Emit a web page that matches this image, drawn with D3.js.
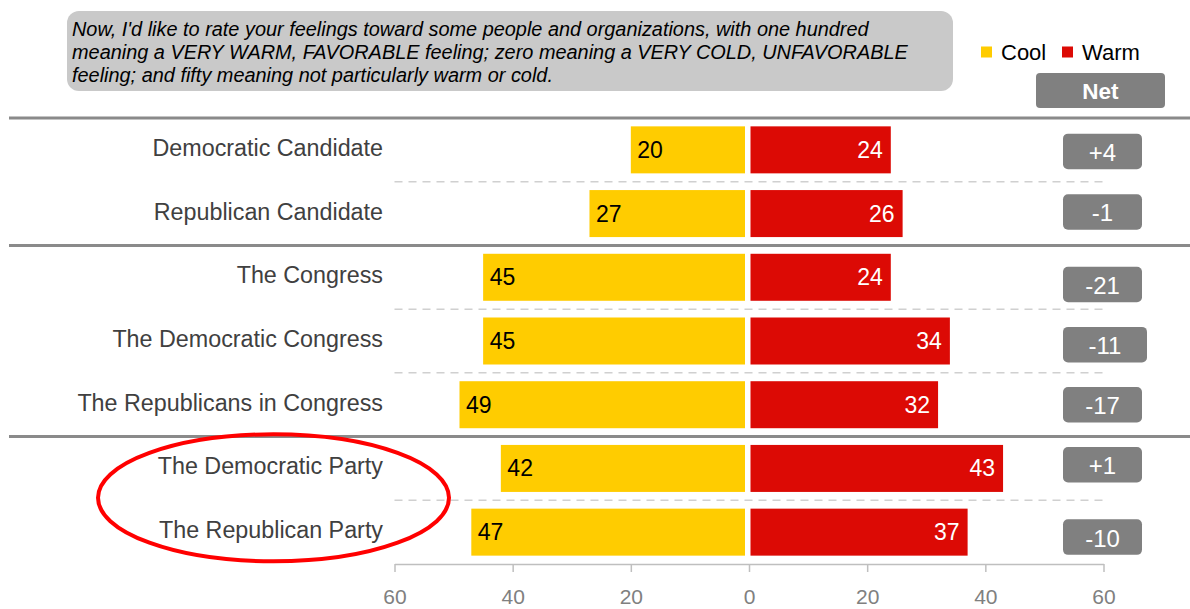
<!DOCTYPE html>
<html>
<head>
<meta charset="utf-8">
<script src="https://cdn.jsdelivr.net/npm/d3@7"></script>
<style>
  html, body { margin: 0; padding: 0; background: #fff; }
  svg { display: block; font-family: "Liberation Sans", Arial, sans-serif; }
</style>
</head>
<body>
<svg id="chart" width="1190" height="609"></svg>
<script>
// ---------------- data ----------------
const categories = [
  "Democratic Candidate",
  "Republican Candidate",
  "The Congress",
  "The Democratic Congress",
  "The Republicans in Congress",
  "The Democratic Party",
  "The Republican Party"
];
const groups = ["Candidate", "Candidate", "Congress", "Congress", "Congress", "Party", "Party"];
const coolValues = [20, 27, 45, 45, 49, 42, 47];
const warmValues = [24, 26, 24, 34, 32, 43, 37];
const axisTicks = [-60, -40, -20, 0, 20, 40, 60];
const legendLabels = ["Cool", "Warm"];
const netHeader = "Net";
const highlighted = ["The Democratic Party", "The Republican Party"];
const questionLines = [
  "Now, I'd like to rate your feelings toward some people and organizations, with one hundred",
  "meaning a VERY WARM, FAVORABLE feeling; zero meaning a VERY COLD, UNFAVORABLE",
  "feeling; and fifty meaning not particularly warm or cold."
];

// ---------------- layout ----------------
const COOL = "#FFCC00", WARM = "#DC0A05", GREY = "#808080";
const netNudgeY = [1.6, -1.6, 7.2, 3.7, 0, -3.7, 4.9];
const netExtraW = [0, 0, 0, 5, 0, 0, 0];

const svg = d3.select("#chart");

const x = d3.scaleLinear().domain([-60, 60]).range([394.5, 1103.5]);
const y = d3.scaleBand().domain(categories).range([118, 564]).paddingInner(0).paddingOuter(0);
const bw = y.bandwidth();
const barH = 47;
const x0 = x(0);

const rows = categories.map((c, i) => ({
  cat: c, group: groups[i], cool: coolValues[i], warm: warmValues[i],
  net: warmValues[i] - coolValues[i], i
}));

// question box
svg.append("rect").attr("x", 67).attr("y", 11).attr("width", 886).attr("height", 80)
  .attr("rx", 12).attr("fill", "#C9C9C9");
svg.append("g").selectAll("text").data(questionLines).join("text")
  .attr("x", 72).attr("y", (d, i) => 35.5 + i * 23)
  .attr("font-size", 19.9).attr("font-style", "italic").attr("fill", "#000")
  .text(d => d);

// legend
const legend = svg.append("g");
const legX = [981, 1062];
legend.selectAll("rect").data(legendLabels).join("rect")
  .attr("x", (d, i) => legX[i]).attr("y", 46.5).attr("width", 11).attr("height", 11)
  .attr("fill", (d, i) => i === 0 ? COOL : WARM);
legend.selectAll("text").data(legendLabels).join("text")
  .attr("x", (d, i) => legX[i] + 20).attr("y", 52).attr("dominant-baseline", "central")
  .attr("font-size", 22).attr("fill", "#000").text(d => d);

// Net header
svg.append("rect").attr("x", 1036).attr("y", 73).attr("width", 129).attr("height", 35)
  .attr("rx", 4).attr("fill", GREY);
svg.append("text").attr("x", 1100.5).attr("y", 91).attr("text-anchor", "middle")
  .attr("dominant-baseline", "central").attr("font-size", 22.5).attr("font-weight", "bold")
  .attr("fill", "#fff").text(netHeader);

// separators
rows.forEach((r, i) => {
  const top = y(r.cat);
  if (i === 0 || groups[i] !== groups[i - 1]) {
    svg.append("line").attr("x1", 9).attr("x2", 1190).attr("y1", top).attr("y2", top)
      .attr("stroke", "#8A8A8A").attr("stroke-width", 3);
  } else {
    svg.append("line").attr("x1", 394.5).attr("x2", 1104).attr("y1", top).attr("y2", top)
      .attr("stroke", "#D0D0D0").attr("stroke-width", 1.5).attr("stroke-dasharray", "8,6");
  }
});

// category labels
svg.append("g").selectAll("text").data(rows).join("text")
  .attr("x", 383).attr("y", d => y(d.cat) + bw / 2 - 2)
  .attr("text-anchor", "end").attr("dominant-baseline", "central")
  .attr("font-size", 23.3).attr("fill", "#404040").text(d => d.cat);

// bars
const bars = svg.append("g");
bars.selectAll("rect.cool").data(rows).join("rect").attr("class", "cool")
  .attr("x", d => x(-d.cool)).attr("y", d => y(d.cat) + (bw - barH) / 2)
  .attr("width", d => x0 - 4 - x(-d.cool)).attr("height", barH).attr("fill", COOL);
bars.selectAll("rect.warm").data(rows).join("rect").attr("class", "warm")
  .attr("x", x0 + 1.5).attr("y", d => y(d.cat) + (bw - barH) / 2)
  .attr("width", d => x(d.warm) - x0 - 1.5).attr("height", barH).attr("fill", WARM);

bars.selectAll("text.coolv").data(rows).join("text").attr("class", "coolv")
  .attr("x", d => x(-d.cool) + 6.5).attr("y", d => y(d.cat) + bw / 2)
  .attr("dominant-baseline", "central").attr("font-size", 23).attr("fill", "#000")
  .text(d => d.cool);
bars.selectAll("text.warmv").data(rows).join("text").attr("class", "warmv")
  .attr("x", d => x(d.warm) - 8).attr("y", d => y(d.cat) + bw / 2)
  .attr("text-anchor", "end").attr("dominant-baseline", "central")
  .attr("font-size", 23).attr("fill", "#fff").text(d => d.warm);

// net boxes
const net = svg.append("g");
net.selectAll("rect").data(rows).join("rect")
  .attr("x", 1063).attr("y", d => y(d.cat) + bw / 2 + netNudgeY[d.i] - 17.8)
  .attr("width", d => 79 + netExtraW[d.i]).attr("height", 35.6).attr("rx", 5).attr("fill", GREY);
net.selectAll("text").data(rows).join("text")
  .attr("x", d => 1102.5 + netExtraW[d.i] / 2).attr("y", d => y(d.cat) + bw / 2 + netNudgeY[d.i] + 1)
  .attr("text-anchor", "middle").attr("dominant-baseline", "central")
  .attr("font-size", 24).attr("fill", "#fff")
  .text(d => (d.net > 0 ? "+" : "") + d.net);

// axis
const axis = svg.append("g").attr("transform", "translate(0,564)")
  .call(d3.axisBottom(x).tickValues(axisTicks).tickFormat(d => Math.abs(d)).tickSize(8).tickSizeOuter(0));
axis.select(".domain").attr("stroke", "#BFBFBF").attr("stroke-width", 1.5);
axis.selectAll(".tick line").attr("stroke", "#BFBFBF").attr("stroke-width", 1.5);
axis.selectAll(".tick text").attr("y", 32.5).attr("dy", null).attr("dominant-baseline", "central")
  .attr("font-size", 21).attr("fill", GREY).attr("font-family", "Liberation Sans, Arial, sans-serif");

// highlight ellipse
const hTop = y(highlighted[0]);
const hBot = y(highlighted[highlighted.length - 1]) + bw;
svg.append("ellipse").attr("cx", 273.5).attr("cy", (hTop + hBot) / 2 - 2.5)
  .attr("rx", 175.5).attr("ry", 63.5).attr("fill", "none")
  .attr("stroke", "#FF0000").attr("stroke-width", 4);
</script>
</body>
</html>
